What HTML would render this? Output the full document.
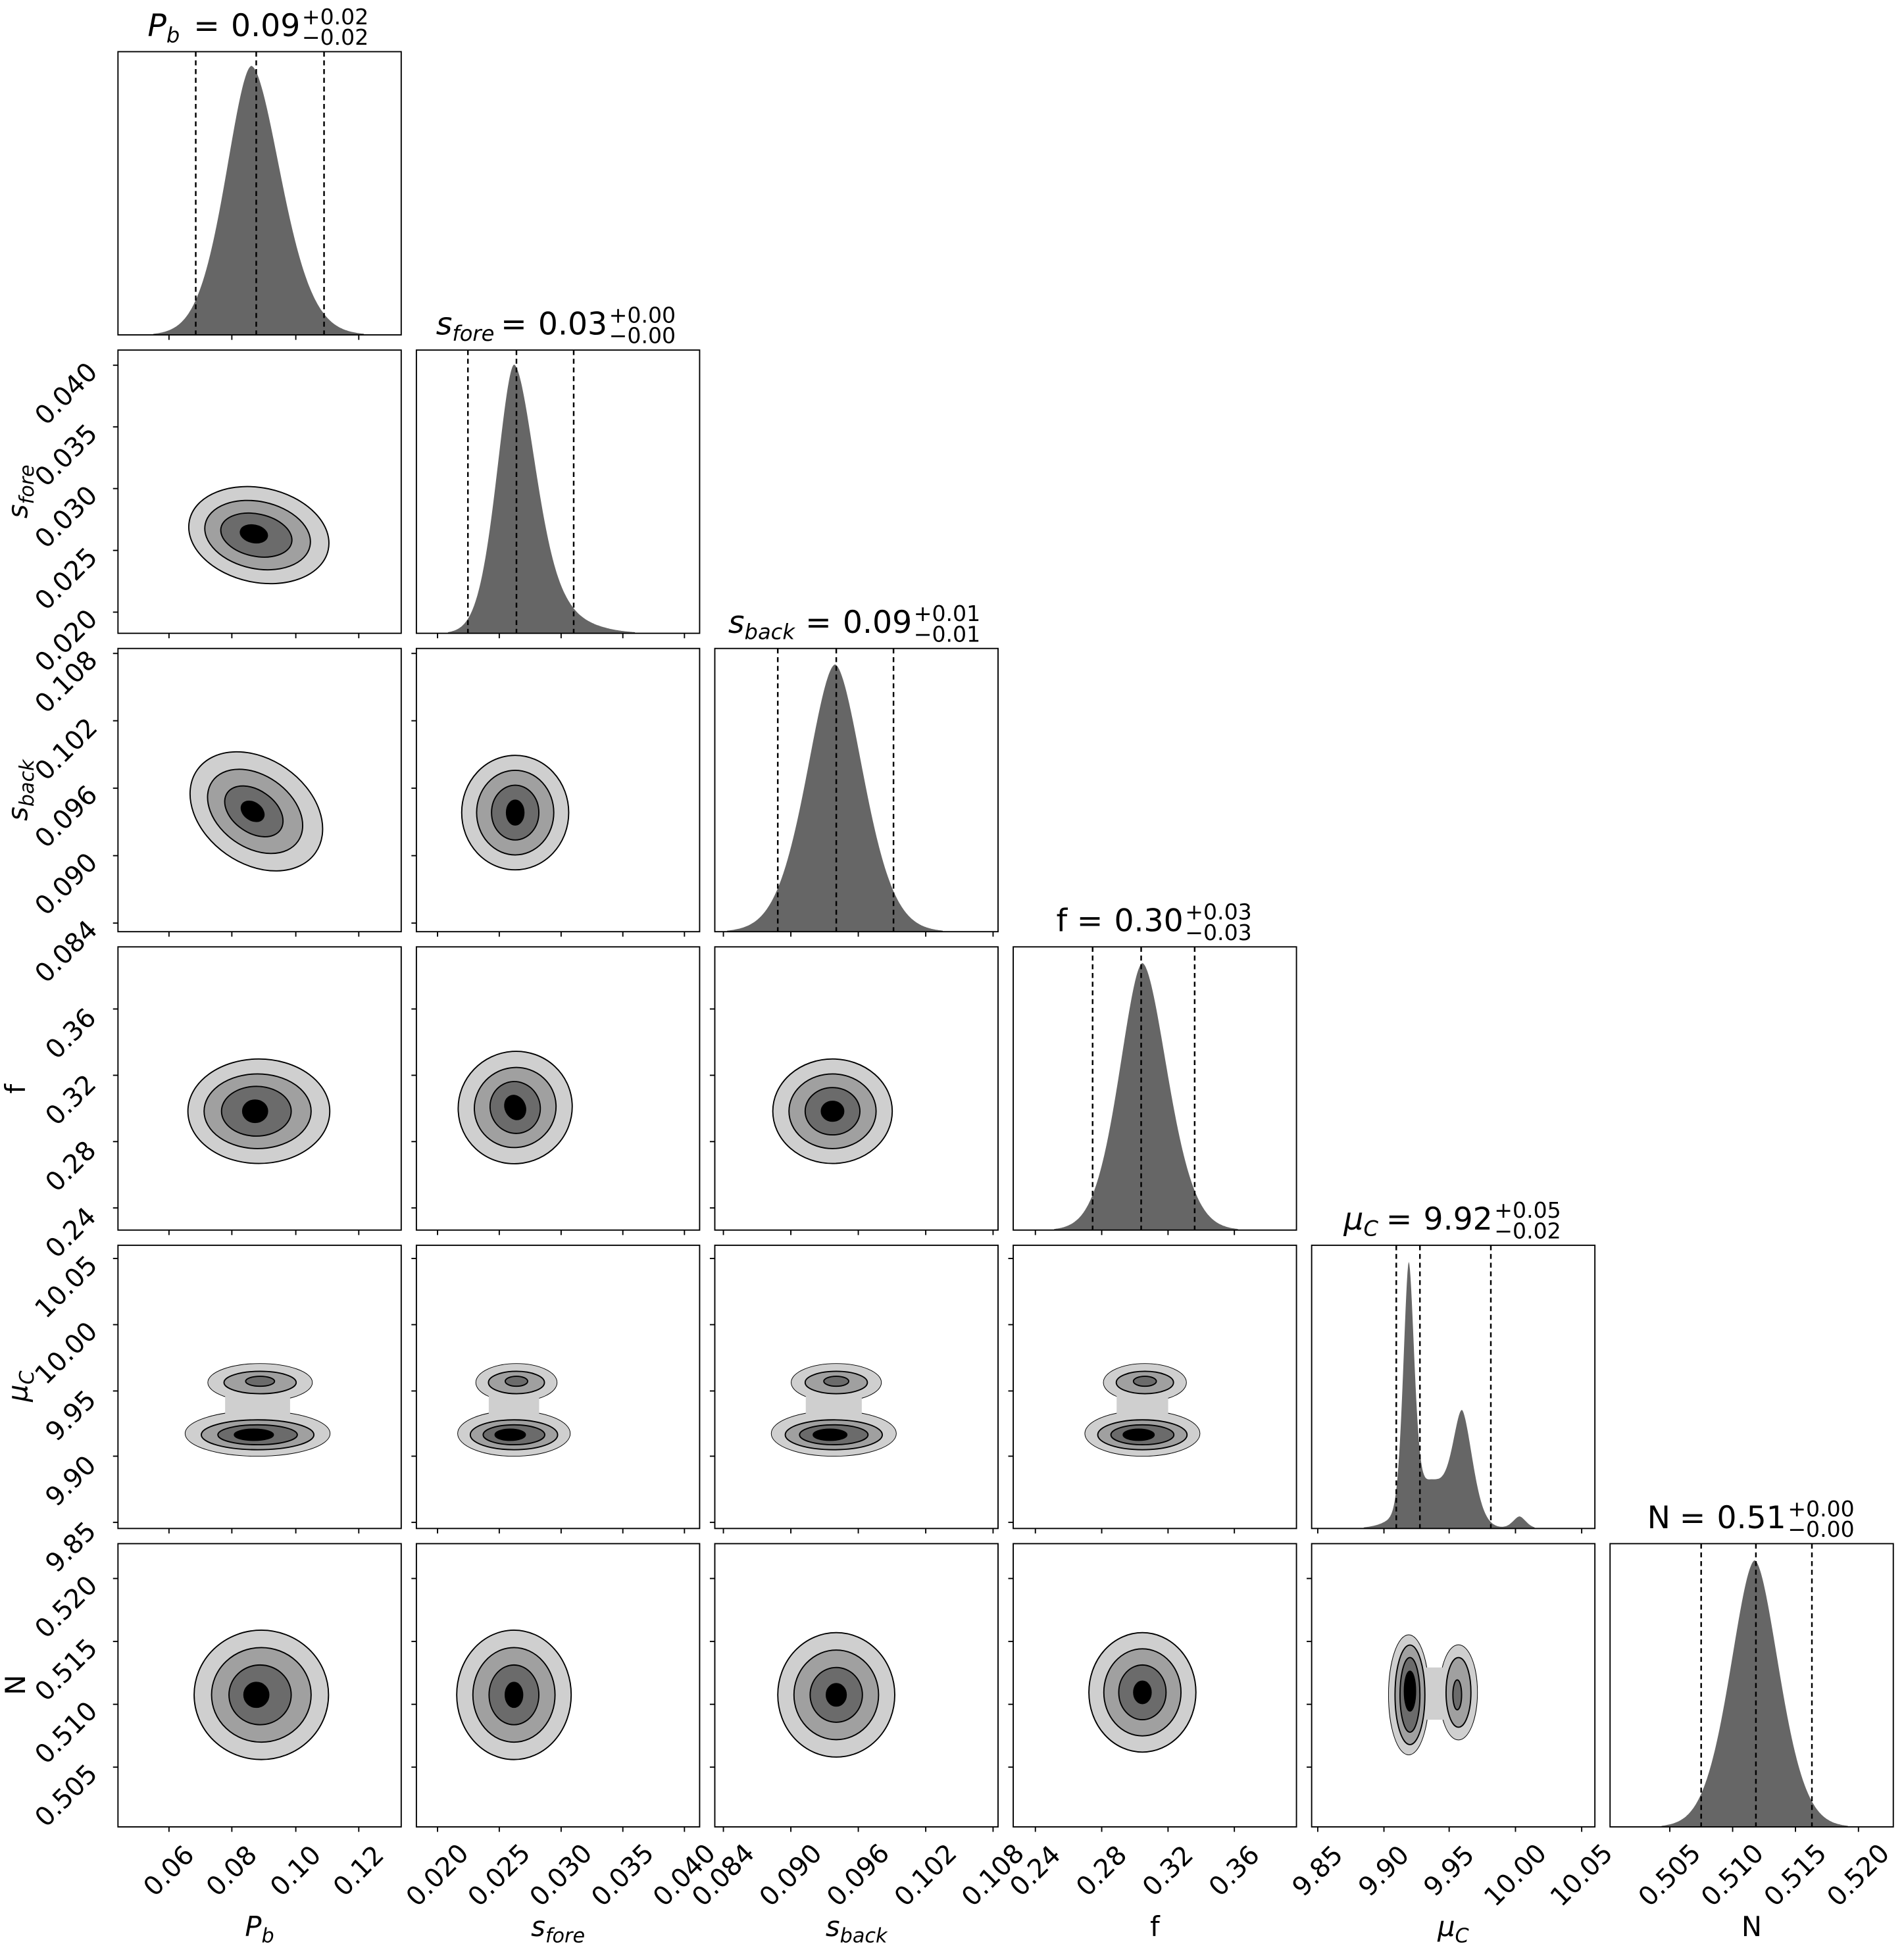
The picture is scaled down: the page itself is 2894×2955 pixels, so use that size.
<!DOCTYPE html>
<html><head><meta charset="utf-8"><style>
html,body{margin:0;padding:0;background:#fff}
svg{display:block}
text{font-family:"DejaVu Sans","Liberation Sans",sans-serif;fill:#000}
.t{font-size:21px}
.it{font-style:italic}
.ti{font-size:25px}
.sc{font-size:17.5px}
.al{font-size:22px}
</style></head><body>
<svg id="s" xmlns="http://www.w3.org/2000/svg" width="2894" height="2955" viewBox="0 0 1530 1562.2">
<rect x="0" y="0" width="1530" height="1563" fill="#fff"/>
<g id="g"></g>

<!-- titles -->
<text class="ti" x="118.6" y="29"><tspan class="it">P</tspan><tspan class="it" font-size="17" dy="5">b</tspan></text>
<text class="ti" x="155.6" y="29">=</text><text class="ti" x="185.6" y="29">0.09</text>
<text class="sc" x="242.6" y="19.5">+0.02</text><text class="sc" x="242.6" y="36">−0.02</text>

<text class="ti" x="350.4" y="268.8"><tspan class="it">s</tspan><tspan class="it" font-size="17" dy="5">fore</tspan></text>
<text class="ti" x="402.4" y="268.8">=</text><text class="ti" x="432.4" y="268.8">0.03</text>
<text class="sc" x="489.4" y="259.3">+0.00</text><text class="sc" x="489.4" y="275.8">−0.00</text>

<text class="ti" x="585.2" y="508.6"><tspan class="it">s</tspan><tspan class="it" font-size="17" dy="5">back</tspan></text>
<text class="ti" x="647.2" y="508.6">=</text><text class="ti" x="677.2" y="508.6">0.09</text>
<text class="sc" x="734.2" y="499.1">+0.01</text><text class="sc" x="734.2" y="515.6">−0.01</text>

<text class="ti" x="848.8" y="748.4">f</text>
<text class="ti" x="865.3" y="748.4">=</text><text class="ti" x="895.3" y="748.4">0.30</text>
<text class="sc" x="952.3" y="738.9">+0.03</text><text class="sc" x="952.3" y="755.4">−0.03</text>

<text class="ti" x="1079.8" y="988.2"><tspan class="it">μ</tspan><tspan class="it" font-size="17" dy="5">C</tspan></text>
<text class="ti" x="1113.8" y="988.2">=</text><text class="ti" x="1143.8" y="988.2">9.92</text>
<text class="sc" x="1200.8" y="978.7">+0.05</text><text class="sc" x="1200.8" y="995.2">−0.02</text>

<text class="ti" x="1323.6" y="1228">N</text>
<text class="ti" x="1349.6" y="1228">=</text><text class="ti" x="1379.6" y="1228">0.51</text>
<text class="sc" x="1436.6" y="1218.5">+0.00</text><text class="sc" x="1436.6" y="1235">−0.00</text>

<!-- x axis labels -->
<text class="al" x="208.6" y="1556" text-anchor="middle"><tspan class="it">P</tspan><tspan class="it" font-size="16" dy="5">b</tspan></text>
<text class="al" x="448.4" y="1556" text-anchor="middle"><tspan class="it">s</tspan><tspan class="it" font-size="16" dy="5">fore</tspan></text>
<text class="al" x="688.2" y="1556" text-anchor="middle"><tspan class="it">s</tspan><tspan class="it" font-size="16" dy="5">back</tspan></text>
<text class="al" x="928" y="1556" text-anchor="middle">f</text>
<text class="al" x="1167.8" y="1556" text-anchor="middle"><tspan class="it">μ</tspan><tspan class="it" font-size="16" dy="5">C</tspan></text>
<text class="al" x="1407.6" y="1556" text-anchor="middle">N</text>

<!-- y axis labels -->
<text class="al" transform="translate(22,395) rotate(-90)" text-anchor="middle"><tspan class="it">s</tspan><tspan class="it" font-size="16" dy="5">fore</tspan></text>
<text class="al" transform="translate(22,635) rotate(-90)" text-anchor="middle"><tspan class="it">s</tspan><tspan class="it" font-size="16" dy="5">back</tspan></text>
<text class="al" transform="translate(20,875) rotate(-90)" text-anchor="middle">f</text>
<text class="al" transform="translate(22,1114) rotate(-90)" text-anchor="middle"><tspan class="it">μ</tspan><tspan class="it" font-size="16" dy="5">C</tspan></text>
<text class="al" transform="translate(20,1354) rotate(-90)" text-anchor="middle">N</text>

<!-- x tick labels -->
<g class="t" text-anchor="middle" dominant-baseline="central">
<text transform="translate(135.8,1503.6) rotate(-45)">0.06</text>
<text transform="translate(186.3,1503.6) rotate(-45)">0.08</text>
<text transform="translate(237.7,1503.6) rotate(-45)">0.10</text>
<text transform="translate(288.3,1503.6) rotate(-45)">0.12</text>
<text transform="translate(351.6,1507) rotate(-45)">0.020</text>
<text transform="translate(401.2,1507) rotate(-45)">0.025</text>
<text transform="translate(450.9,1507) rotate(-45)">0.030</text>
<text transform="translate(500.5,1507) rotate(-45)">0.035</text>
<text transform="translate(550.0,1507) rotate(-45)">0.040</text>
<text transform="translate(581.3,1507) rotate(-45)">0.084</text>
<text transform="translate(635.5,1507) rotate(-45)">0.090</text>
<text transform="translate(689.7,1507) rotate(-45)">0.096</text>
<text transform="translate(743.9,1507) rotate(-45)">0.102</text>
<text transform="translate(798.0,1507) rotate(-45)">0.108</text>
<text transform="translate(832.0,1503.6) rotate(-45)">0.24</text>
<text transform="translate(885.3,1503.6) rotate(-45)">0.28</text>
<text transform="translate(938.6,1503.6) rotate(-45)">0.32</text>
<text transform="translate(991.9,1503.6) rotate(-45)">0.36</text>
<text transform="translate(1058.9,1503.6) rotate(-45)">9.85</text>
<text transform="translate(1112.1,1503.6) rotate(-45)">9.90</text>
<text transform="translate(1164.5,1503.6) rotate(-45)">9.95</text>
<text transform="translate(1217.8,1507) rotate(-45)">10.00</text>
<text transform="translate(1271.0,1507) rotate(-45)">10.05</text>
<text transform="translate(1341.8,1507) rotate(-45)">0.505</text>
<text transform="translate(1392.3,1507) rotate(-45)">0.510</text>
<text transform="translate(1442.8,1507) rotate(-45)">0.515</text>
<text transform="translate(1493.4,1507) rotate(-45)">0.520</text>
</g>
<!-- y tick labels -->
<g class="t" text-anchor="middle" dominant-baseline="central">
<text transform="translate(53.3,316.5) rotate(-45)">0.040</text>
<text transform="translate(53.3,366) rotate(-45)">0.035</text>
<text transform="translate(53.3,415.6) rotate(-45)">0.030</text>
<text transform="translate(53.3,465.3) rotate(-45)">0.025</text>
<text transform="translate(53.3,514.9) rotate(-45)">0.020</text>
<text transform="translate(53.3,548.1) rotate(-45)">0.108</text>
<text transform="translate(53.3,602.2) rotate(-45)">0.102</text>
<text transform="translate(53.3,656.4) rotate(-45)">0.096</text>
<text transform="translate(53.3,710.6) rotate(-45)">0.090</text>
<text transform="translate(53.3,764.8) rotate(-45)">0.084</text>
<text transform="translate(57,830.8) rotate(-45)">0.36</text>
<text transform="translate(57,884.1) rotate(-45)">0.32</text>
<text transform="translate(57,937.4) rotate(-45)">0.28</text>
<text transform="translate(57,990.7) rotate(-45)">0.24</text>
<text transform="translate(53.3,1034.3) rotate(-45)">10.05</text>
<text transform="translate(53.3,1087.5) rotate(-45)">10.00</text>
<text transform="translate(57,1137.8) rotate(-45)">9.95</text>
<text transform="translate(57,1190.2) rotate(-45)">9.90</text>
<text transform="translate(57,1243.4) rotate(-45)">9.85</text>
<text transform="translate(53.3,1291.5) rotate(-45)">0.520</text>
<text transform="translate(53.3,1342.1) rotate(-45)">0.515</text>
<text transform="translate(53.3,1392.6) rotate(-45)">0.510</text>
<text transform="translate(53.3,1443.1) rotate(-45)">0.505</text>
</g>
</svg>
<script>
(function(){
var NS="http://www.w3.org/2000/svg",g=document.getElementById("g");
function el(n,a){var e=document.createElementNS(NS,n);for(var k in a)e.setAttribute(k,a[k]);g.appendChild(e);return e;}
var L=[],T=[],W=227.6;
for(var i=0;i<6;i++){L.push(94.8+239.8*i);T.push(41.5+239.8*i);}
var R=[[41,91.5,142.9,193.5],[17.0,66.6,116.3,165.9,215.4],[6.9,61.1,115.3,169.5,223.6],[17.8,71.1,124.4,177.7],[4.9,58.1,110.5,163.8,217],[48,98.5,149,199.6]];
var C=["#cfcfcf","#a0a0a0","#6b6b6b","#000"];
var H=[
 {pk:53,c:[[202,20,23,1]],q:[157.3,205.9,260.4]},
 {pk:293,c:[[413,13.5,17,1],[455,22,22,0.05]],q:[376,415,461]},
 {pk:534,c:[[671,22,22,1]],q:[625,672,718]},
 {pk:774,c:[[918,18,19.5,1]],q:[878,917,960]},
 {pk:1014,c:[[1132,4.2,4.2,1],[1150,17,17,0.2],[1175,7,8,0.42],[1221,5,5,0.05]],q:[1122,1141,1198]},
 {pk:1254,c:[[1410,19,19,1]],q:[1367,1411,1456]}
];
function f(x,c){var s=0;for(var k=0;k<c.length;k++){var d=x-c[k][0],sg=d<0?c[k][1]:c[k][2];s+=c[k][3]*Math.exp(-0.5*Math.pow(Math.abs(d)/sg,1.75));}return s;}
for(var i=0;i<6;i++){
 var h=H[i],l=L[i],b=T[i]+W,pts=[],mx=0;
 for(var x=l;x<=l+W;x+=0.5){var v=f(x,h.c);pts.push([x,v]);if(v>mx)mx=v;}
 var sc=(b-h.pk)/mx,d="M"+l+","+b;
 pts.forEach(function(p){var v=p[1]/mx<0.004?0:p[1];d+=" L"+p[0].toFixed(1)+","+(b-v*sc).toFixed(1);});
 d+=" L"+(l+W)+","+b+" Z";
 el("path",{d:d,fill:"#666"});
 h.q.forEach(function(x){el("line",{x1:x,y1:T[i],x2:x,y2:b,stroke:"#000","stroke-width":1.3,"stroke-dasharray":"4,3"});});
}
function ell(cx,cy,rx,ry,rot,fill,st){el("ellipse",{cx:cx,cy:cy,rx:rx,ry:ry,transform:"rotate("+(rot||0)+" "+cx+" "+cy+")",fill:fill,stroke:st===false?"none":"#000","stroke-width":1});}
function blob(cx,cy,r,rot){for(var k=0;k<4;k++){ell(cx+r[k][2],cy+r[k][3],r[k][0],r[k][1],rot,C[k]);}}
blob(207,430,[[57,38,1,0],[43,27,0,0],[29,17,-1,0],[11,7,-3,-1]],12);
blob(206,652,[[58,42,0,0],[42,29,-1,0],[26,17,-2,0],[10,7,-3,0]],35);
blob(414,653,[[43,46,0,0],[31,34,0,0],[19,22,0,0],[7,10,0,0]],0);
blob(208,893,[[57,42,0,0],[43,30,-1,0],[28,20,-2,0],[10,9,-3,0]],0);
blob(414,890,[[46,45,0,0],[33,32,0,0],[20,21,0,0],[8,10,0,0]],-25);
blob(669,893,[[48,42,0,0],[35,30,0,0],[22,19,0,0],[9,8,0,0]],0);
[[207,58],[413,45],[670,50],[918,46]].forEach(function(p){
 var x=p[0],r=p[1];
 ell(x,1152,r,18,0,C[0]);ell(x+2,1111,r*0.72,15,0,C[0]);
 el("rect",{x:x-r*0.45,y:1118,width:r*0.9,height:22,fill:C[0]});
 ell(x,1152,r,18,0,C[0],false);ell(x+2,1111,r*0.72,15,0,C[0],false);
 ell(x,1153,r*0.78,12,0,C[1]);ell(x,1153,r*0.55,8,0,C[2]);ell(x-3,1153,r*0.27,4.5,0,C[3]);
 ell(x+2,1111,r*0.5,9,0,C[1]);ell(x+2,1110,r*0.2,4,0,C[2]);
});
blob(210,1362,[[54,52,0,0],[40,38,0,0],[25,24,-1,0],[10,10,-4,0]],0);
blob(413,1362,[[46,52,0,0],[33,38,0,0],[20,24,0,0],[7,10,0,0]],0);
blob(672,1362,[[47,50,0,0],[34,36,0,0],[21,22,0,0],[8,9,0,0]],0);
blob(918,1360,[[43,48,0,0],[31,35,0,0],[19,22,0,0],[7,9,0,0]],0);
ell(1132,1362,16,48,0,C[0]);ell(1172,1360,15,38,0,C[0]);
el("rect",{x:1136,y:1340,width:34,height:42,fill:C[0]});
ell(1132,1362,16,48,0,C[0],false);ell(1172,1360,15,38,0,C[0],false);
ell(1133,1362,12,40,0,C[1]);ell(1172,1360,10,28,0,C[1]);
ell(1133,1362,8,30,0,C[2]);ell(1171,1362,3.5,12,0,C[2]);
ell(1133,1359,4.5,16,0,C[3]);
for(var j=0;j<6;j++)for(var i=0;i<=j;i++){
 var l=L[i],t=T[j],b=t+W;
 el("rect",{x:l,y:t,width:W,height:W,fill:"none",stroke:"#000","stroke-width":1});
 R[i].forEach(function(r){var x=l+r;el("line",{x1:x,y1:b,x2:x,y2:b+4,stroke:"#000","stroke-width":1});});
 if(i<j)R[j].forEach(function(r){var y=b-r;el("line",{x1:l-4,y1:y,x2:l,y2:y,stroke:"#000","stroke-width":1});});
}
})();
</script>
</body></html>
